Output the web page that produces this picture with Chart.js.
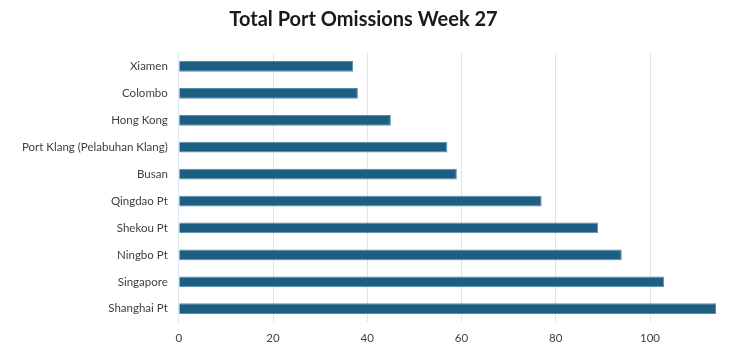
<!DOCTYPE html>
<html>
<head>
<meta charset="utf-8">
<script src="https://cdn.jsdelivr.net/npm/chart.js@4"></script>
<style>
  html, body { margin: 0; padding: 0; background: #fff; }
  #wrap { width: 733px; height: 354px; }
</style>
</head>
<body>
<div id="wrap"><canvas id="c"></canvas></div>
<script>
// data
const ports = ['Xiamen', 'Colombo', 'Hong Kong', 'Port Klang (Pelabuhan Klang)', 'Busan',
  'Qingdao Pt', 'Shekou Pt', 'Ningbo Pt', 'Singapore', 'Shanghai Pt'];
const omissions = [37, 38, 45, 57, 59, 77, 89, 94, 103, 114];
const xTicks = [0, 20, 40, 60, 80, 100];

const ctx = document.getElementById('c').getContext('2d');
new Chart(ctx, {
  type: 'bar',
  data: {
    labels: ports,
    datasets: [{
      label: 'Total Port Omissions',
      data: omissions,
      backgroundColor: '#1d5f82',
      borderColor: '#5b8aa6',
      borderWidth: 1,
      categoryPercentage: 1,
      barPercentage: 0.4
    }]
  },
  options: {
    indexAxis: 'y',
    responsive: true,
    maintainAspectRatio: false,
    animation: false,
    layout: { padding: { left: 11, right: 17, top: 2, bottom: 0 } },
    plugins: {
      legend: { display: false },
      tooltip: { enabled: false },
      title: {
        display: true,
        text: 'Total Port Omissions Week 27',
        color: '#1a1a1a',
        font: { family: 'Lato', size: 20, weight: 'bold' },
        padding: { top: 6, bottom: 21 }
      }
    },
    scales: {
      x: {
        min: 0,
        max: 114,
        afterBuildTicks: (axis) => {
          axis.ticks = xTicks.map(v => ({ value: v }));
        },
        grid: { color: '#dbe6f3', drawTicks: false },
        border: { display: false },
        ticks: {
          color: '#404040',
          padding: 9,
          font: { family: 'Lato', size: 11.5 }
        }
      },
      y: {
        grid: { display: false, drawTicks: false },
        border: { display: true, color: '#dbe6f3' },
        ticks: {
          color: '#404040',
          padding: 11,
          font: { family: 'Lato', size: 11.5 }
        }
      }
    }
  }
});
</script>
</body>
</html>
